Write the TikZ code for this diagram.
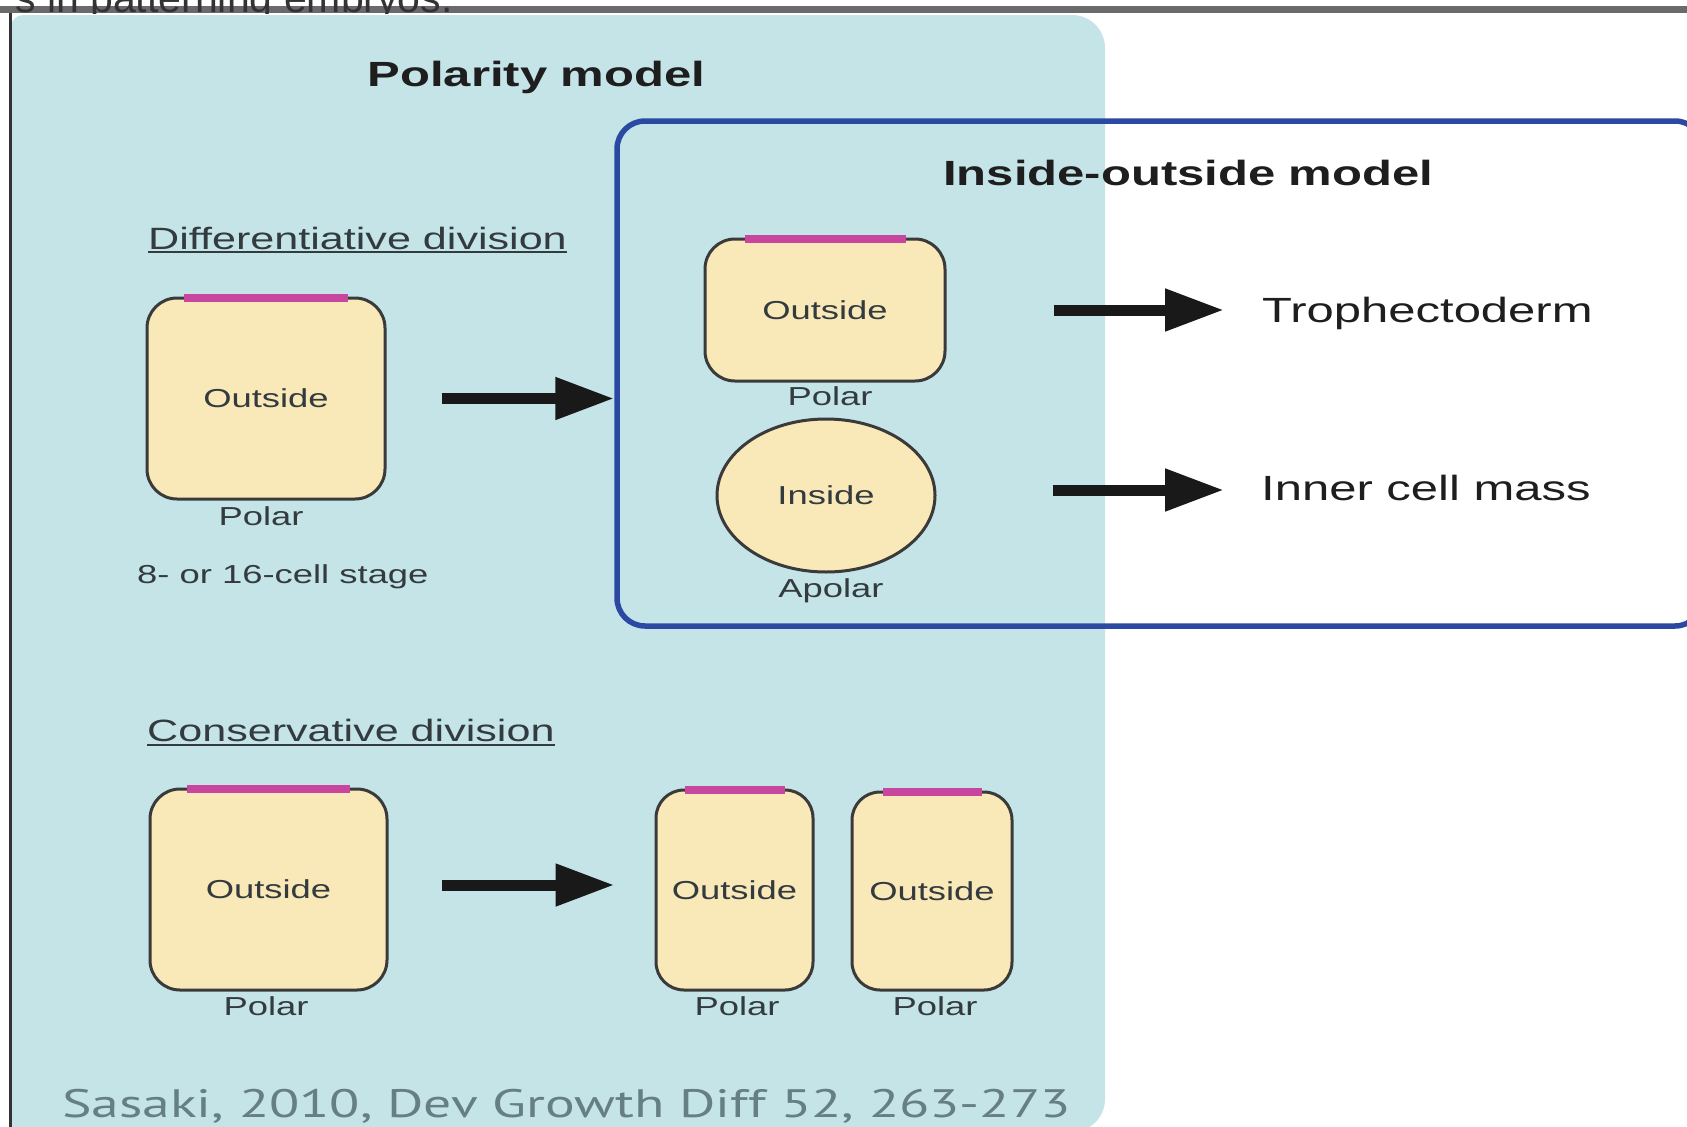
\documentclass[tikz,border=0pt]{standalone}
\usepackage{fontspec}
\setmainfont{Liberation Sans}[FakeStretch=1.4]
\newfontfamily\plainsans{Liberation Sans}
\newfontfamily\refsans{PT Sans}[FakeStretch=1.4]
\usetikzlibrary{arrows.meta,shapes.geometric}

\definecolor{panelblue}{HTML}{C5E4E8}
\definecolor{cellfill}{HTML}{F9E8B8}
\definecolor{celledge}{HTML}{3A3A3A}
\definecolor{polecol}{HTML}{C8469E}
\definecolor{framecol}{HTML}{2B49A3}
\definecolor{inkdark}{HTML}{1E1E1E}
\definecolor{inklabel}{HTML}{333B3F}
\definecolor{refgray}{HTML}{667F86}
\definecolor{bargray}{HTML}{6A6A6A}

\begin{document}
\begin{tikzpicture}[x=1pt,y=-1pt,
  cell/.style={draw=celledge, line width=3pt, fill=cellfill, rounded corners=30pt,
    inner sep=0pt, text=inklabel, font=\fontsize{26}{30}\selectfont},
  roundcell/.style={ellipse, draw=celledge, line width=3pt, fill=cellfill,
    inner sep=0pt, text=inklabel, font=\fontsize{26}{30}\selectfont},
  polebar/.style={draw=polecol, line width=8pt},
  lab/.style={inner sep=0pt, text=inklabel, font=\fontsize{26}{30}\selectfont},
  title/.style={inner sep=0pt, text=inkdark, font=\fontsize{35}{40}\selectfont\bfseries},
  fate/.style={inner sep=0pt, text=inkdark, font=\fontsize{35}{40}\selectfont},
  heading/.style={inner sep=0pt, text=inklabel, font=\fontsize{30.8}{34}\selectfont},
  ul/.style={draw=inklabel, line width=2pt},
  modelframe/.style={draw=framecol, line width=5.5pt, rounded corners=28pt, inner sep=0pt},
  bigarrow/.style={draw=black!90, line width=11pt, -{Triangle[length=59pt,width=40pt]}}
]
% canvas
\fill[white] (0,0) rectangle (1687,1127);
\useasboundingbox (0,0) rectangle (1687,1127);

% strip and clipped line of text at the top
\fill[bargray] (0,6) rectangle (1687,13);
\begin{scope}
  \clip (0,0) rectangle (620,13);
  \node[anchor=base west, inner sep=0pt, text=black!80,
        font=\plainsans\fontsize{41}{44}\selectfont] (topline) at (15,12.5)
        {s in patterning embryos.};
\end{scope}

% polarity-model panel
\fill[panelblue] (11,1160) -- (11,27) arc[start angle=180, end angle=270, radius=12]
  -- (1072,15) arc[start angle=270, end angle=360, radius=33]
  -- (1105,1099) arc[start angle=0, end angle=90, radius=33]
  -- (11,1132) -- cycle;
\draw[line width=2.5pt, draw=black!80] (10.5,13) -- (10.5,1127);

% inside-outside frame
\node[modelframe, minimum width=1086pt, minimum height=505pt] (io) at (1160,373.5) {};

% titles
\node[title, anchor=base] (pm) at (536.5,86) {Polarity model};
\node[title, anchor=base west] (iom) at (943,185) {Inside-outside model};

% differentiative division
\node[heading, anchor=base west] (dd) at (148,249) {Differentiative division};
\draw[ul] ([yshift=-3pt]dd.base west) -- ([yshift=-3pt]dd.base east);

\node[cell, minimum width=238pt, minimum height=201pt] (c1) at (266,398.5) {Outside};
\draw[polebar] ([xshift=-82pt,yshift=-1.5pt]c1.north) -- ([xshift=82pt,yshift=-1.5pt]c1.north);
\node[lab, anchor=base] (p1) at (261,525) {Polar};
\node[lab, anchor=base west] (stage) at (137,583) {8- or 16-cell stage};

\node[cell, minimum width=240pt, minimum height=142pt] (c2) at (825,310) {Outside};
\draw[polebar] ([xshift=-80.5pt,yshift=-1.5pt]c2.north) -- ([xshift=80.5pt,yshift=-1.5pt]c2.north);
\node[lab, anchor=base] (p2) at (830,405) {Polar};

\node[roundcell, minimum width=218pt, minimum height=153pt] (in) at (826,495.5) {Inside};
\node[lab, anchor=base] (ap) at (831,597) {Apolar};

\node[fate, anchor=base west] (troph) at (1262,322) {Trophectoderm};
\node[fate, anchor=base west] (icm) at (1261,500) {Inner cell mass};

% conservative division
\node[heading, anchor=base west] (cd) at (147,741.5) {Conservative division};
\draw[ul] ([yshift=-3pt]cd.base west) -- ([yshift=-3pt]cd.base east);

\node[cell, minimum width=237pt, minimum height=201pt] (c3) at (268.5,889.5) {Outside};
\draw[polebar] ([xshift=-81.5pt,yshift=-1.5pt]c3.north) -- ([xshift=81.5pt,yshift=-1.5pt]c3.north);
\node[lab, anchor=base] (p3) at (266,1015) {Polar};

\node[cell, rounded corners=28pt, minimum width=157pt, minimum height=200pt] (c4) at (734.5,890) {Outside};
\draw[polebar] ([xshift=-50pt,yshift=-1.5pt]c4.north) -- ([xshift=50pt,yshift=-1.5pt]c4.north);
\node[lab, anchor=base] (p4) at (737,1015) {Polar};

\node[cell, rounded corners=28pt, minimum width=160pt, minimum height=198pt] (c5) at (932,891) {Outside};
\draw[polebar] ([xshift=-49.5pt,yshift=-1.5pt]c5.north) -- ([xshift=49.5pt,yshift=-1.5pt]c5.north);
\node[lab, anchor=base] (p5) at (935,1015) {Polar};

% arrows
\draw[bigarrow, shorten <=55pt] (c1.east) -- (io.west |- c1.east);
\coordinate (a2s) at ([xshift=53pt,yshift=4.5pt]c3.east);
\draw[bigarrow, shorten >=40pt] (a2s) -- (c4.west |- a2s);
\coordinate (a3s) at ([xshift=107pt]c2.east);
\draw[bigarrow, shorten >=38pt] (a3s) -- (troph.west |- a3s);
\coordinate (a4s) at ([xshift=116pt,yshift=5.5pt]in.east);
\draw[bigarrow, shorten >=37pt] (a4s) -- (icm.west |- a4s);

% reference line
\node[anchor=base west, inner sep=0pt, text=refgray, font=\refsans\fontsize{39.7}{44}\selectfont]
  (ref) at (62,1117) {Sasaki, 2010, Dev Growth Diff 52, 263-273};
\end{tikzpicture}
\end{document}
